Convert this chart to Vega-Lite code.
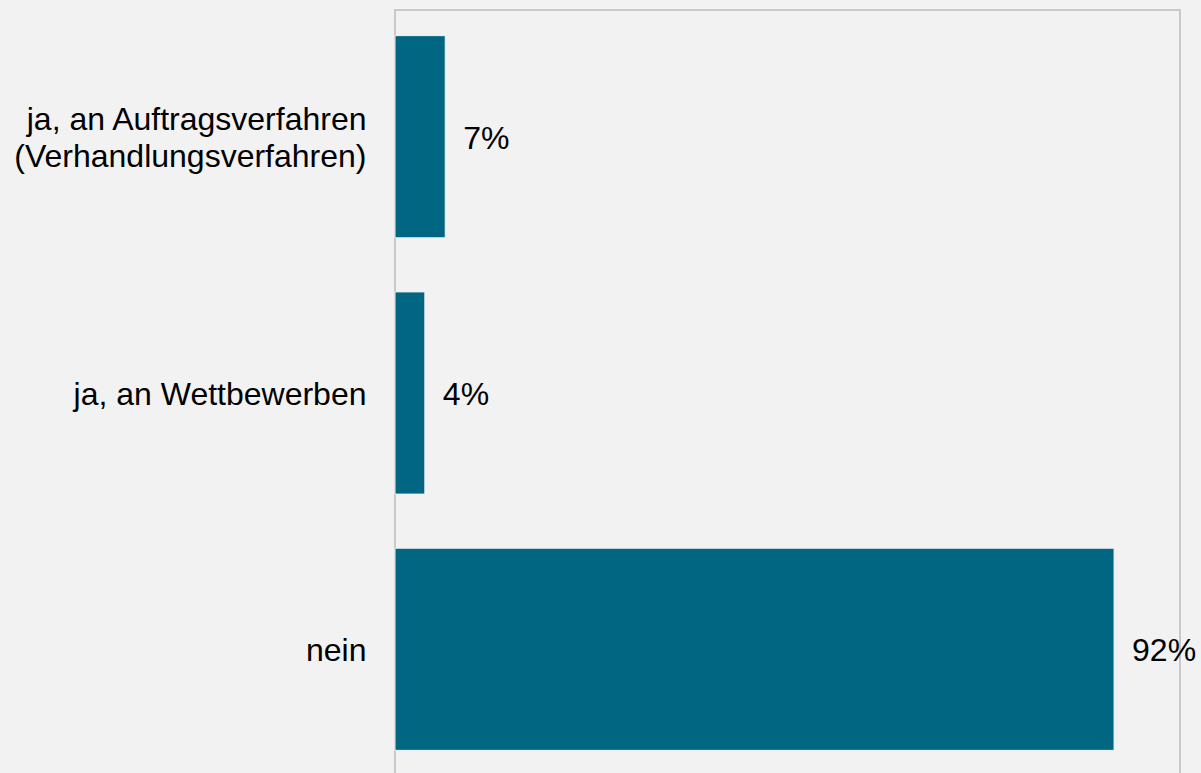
{
  "$schema": "https://vega.github.io/schema/vega-lite/v6.json",
  "width": 785,
  "height": 766,
  "autosize": {"type": "none"},
  "padding": {"left": 395, "top": 10, "right": 21, "bottom": 0},
  "background": "#f2f2f2",
  "config": {
    "view": {"stroke": "#c9c9c9", "strokeWidth": 2, "fill": "#f2f2f2"},
    "font": "Liberation Sans"
  },
  "data": {
    "values": [
      {"antwort": "ja, an Auftragsverfahren\n(Verhandlungsverfahren)", "anteil": 6.4, "label": "7%"},
      {"antwort": "ja, an Wettbewerben", "anteil": 3.8, "label": "4%"},
      {"antwort": "nein", "anteil": 91.6, "label": "92%"}
    ]
  },
  "encoding": {
    "y": {
      "field": "antwort",
      "type": "nominal",
      "sort": null,
      "scale": {"paddingInner": 0.211, "paddingOuter": 0.1},
      "axis": {
        "title": null,
        "domain": false,
        "ticks": false,
        "labelPadding": 29,
        "labelFontSize": 32,
        "labelColor": "#000000",
        "labelFont": "Liberation Sans",
        "labelLineHeight": 37,
        "labelLimit": 400,
        "labelOffset": {"condition": {"test": "indexof(datum.value, '\\n') >= 0", "value": -17}, "value": 1.5},
        "labelExpr": "split(datum.label, '\\n')"
      }
    },
    "x": {
      "field": "anteil",
      "type": "quantitative",
      "scale": {"domain": [0, 100], "nice": false},
      "axis": null
    }
  },
  "layer": [
    {
      "mark": {"type": "bar", "color": "#006682", "stroke": "#f2f2f2", "strokeWidth": 1}
    },
    {
      "mark": {"type": "text", "align": "left", "baseline": "middle", "dx": 18, "dy": 2, "fontSize": 32, "color": "#000000", "font": "Liberation Sans"},
      "encoding": {"text": {"field": "label"}}
    }
  ]
}
